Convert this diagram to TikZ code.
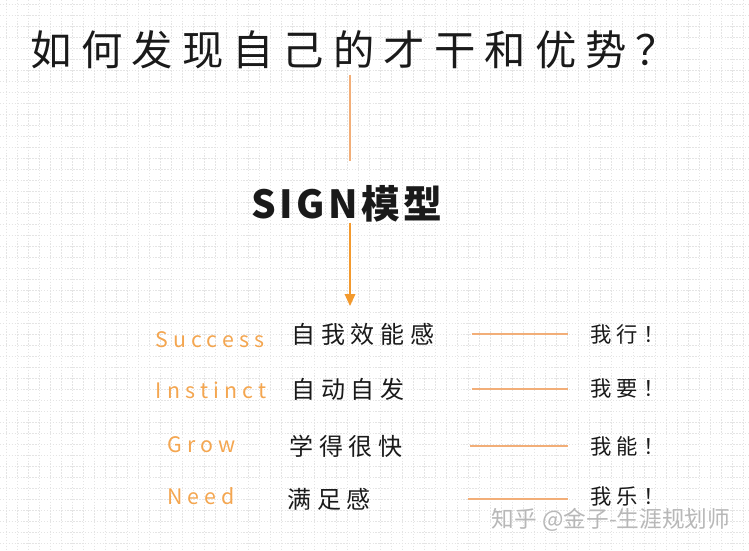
\documentclass[tikz,border=0pt]{standalone}
\usepackage{fontspec}
\usepackage{xcolor}
\usepackage{tikz}
\usetikzlibrary{arrows.meta, positioning, calc}
\setmainfont{Noto Sans CJK SC}
\newfontfamily\cjk{Noto Sans CJK SC}
\newfontfamily\cjkwide[LetterSpace=22]{Noto Sans CJK SC}
\newfontfamily\cjkmodel[LetterSpace=9]{Noto Sans CJK SC}
\newfontfamily\cjkrow[LetterSpace=24]{Noto Sans CJK SC}
\definecolor{signorange}{HTML}{F39A2E}
\definecolor{labelorange}{HTML}{F4A650}
\definecolor{lineorange}{HTML}{F2AE78}
\definecolor{gridgray}{HTML}{E4E4E4}
\definecolor{inkblack}{HTML}{1A1A1A}
\tikzstyle{gridline} = [gridgray, line width=0.5pt, dash pattern=on 1pt off 1.2pt]
\tikzstyle{titlebox} = [inner sep=0pt, font=\cjkwide\fontsize{31}{36}\selectfont, text=inkblack]
\tikzstyle{modelbox} = [inner sep=0pt, font=\cjkmodel\fontsize{29}{34}\selectfont\bfseries, text=inkblack]
\tikzstyle{keybox} = [inner sep=0pt, font=\cjkrow\fontsize{16}{20}\selectfont, text=labelorange]
\tikzstyle{meanbox} = [anchor=west, inner sep=0pt, text width=135pt, align=left,
  font=\cjkrow\fontsize{18}{22}\selectfont, text=inkblack]
\tikzstyle{saybox} = [anchor=west, inner sep=0pt, font=\cjkrow\fontsize{16}{20}\selectfont, text=inkblack]
\tikzstyle{stem} = [lineorange, line width=1pt]
\tikzstyle{arrow} = [signorange, line width=1pt, -{Triangle[length=9pt, width=8pt]}]
\tikzstyle{rowline} = [lineorange, line width=1pt]

\begin{document}
\begin{tikzpicture}[x=0.75pt, y=-0.75pt]

  \useasboundingbox (0,0) rectangle (749,550);
  \fill[white] (0,0) rectangle (749,550);

  % === GRID PAPER ===
  \foreach \gx in {6,17,...,749} \draw[gridline] (\gx,0) -- (\gx,550);
  \foreach \gy in {4,15,...,550} \draw[gridline] (0,\gy) -- (749,\gy);

  % === QUESTION ===
  \node (question) [titlebox] at (354,50) {如何发现自己的才干和优势？};

  % === MODEL ===
  \node (model) [modelbox] at (347,204) {SIGN模型};
  \coordinate (tip) at (350,306);

  % === ROWS ===
  \node (k1) [keybox] at (210,340) {Success};
  \node (k2) [keybox] at (211,390) {Instinct};
  \node (k3) [keybox] at (202,445) {Grow};
  \node (k4) [keybox] at (201,496) {Need};

  \node (m1) [meanbox] at (291,334) {自我效能感};
  \node (m2) [meanbox] at (291,389) {自动自发};
  \node (m3) [meanbox] at (289,446) {学得很快};
  \node (m4) [meanbox] at (287,499) {满足感};

  \node (r1) [saybox] at (590,334) {我行！};
  \node (r2) [saybox] at (590,389) {我要！};
  \node (r3) [saybox] at (590,446) {我能！};
  \node (r4) [saybox] at (590,497) {我乐！};

  % === WATERMARK ===
  \node (mark) [inner sep=0pt, font=\cjk\fontsize{17}{20}\selectfont, text=black!28]
    at (611,520) {知乎 @金子-生涯规划师};

  % === CONNECTORS ===
  \draw[stem, shorten <=4pt, shorten >=18pt] (question.south -| tip) -- (model.north -| tip);
  \draw[arrow] (model.south -| tip) -- (tip);
  \draw[rowline] (m1.east) -- ($(m1.east -| r1.west)+(-22,0)$);
  \draw[rowline] (m2.east) -- ($(m2.east -| r2.west)+(-22,0)$);
  \draw[rowline] (m3.east) -- ($(m3.east -| r3.west)+(-22,0)$);
  \draw[rowline] (m4.east) -- ($(m4.east -| r4.west)+(-22,0)$);

\end{tikzpicture}
\end{document}
